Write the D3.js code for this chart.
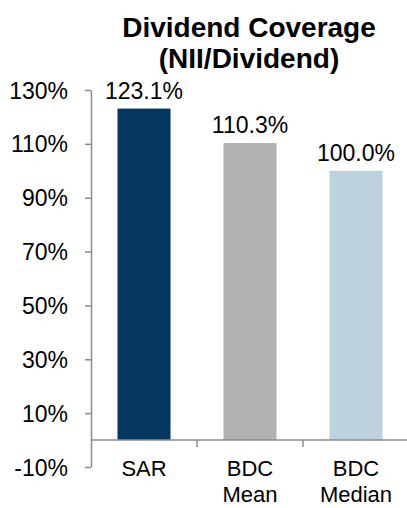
<!DOCTYPE html>
<html><head><meta charset="utf-8">
<script src="https://cdn.jsdelivr.net/npm/d3@7"></script>
<style>html,body{margin:0;padding:0;background:#fff;}</style>
</head><body>
<svg id="c" width="407" height="508"></svg>
<script>
const categories = [["SAR"], ["BDC", "Mean"], ["BDC", "Median"]];
const values = [123.1, 110.3, 100.0];
const labels = ["123.1%", "110.3%", "100.0%"];
const colors = ["#04375F", "#B1B1B1", "#BDD1DF"];
const yTicks = [-10, 10, 30, 50, 70, 90, 110, 130];
const titleLines = ["Dividend Coverage", "(NII/Dividend)"];

const svg = d3.select("#c");
const font = "Liberation Sans, Arial, sans-serif";
const fs = 23;
const x0 = 91, x1 = 409;
const y = d3.scaleLinear().domain([-10, 130]).range([467, 90]);
const x = d3.scaleBand().domain(d3.range(categories.length)).range([x0, x1]).paddingInner(0.5).paddingOuter(0.25);
const xb = d3.scaleBand().domain(d3.range(categories.length)).range([x0, x1]);

// title
svg.append("g").selectAll("text").data(titleLines).join("text")
  .attr("x", 249).attr("y", (d, i) => 37 + i * 31)
  .attr("text-anchor", "middle").attr("font-family", font)
  .attr("font-weight", "bold").attr("font-size", 28).attr("fill", "#000").text(d => d);

// bars
svg.append("g").selectAll("rect").data(values).join("rect")
  .attr("x", (d, i) => x(i)).attr("width", x.bandwidth())
  .attr("y", d => y(d)).attr("height", d => y(0) - y(d))
  .attr("fill", (d, i) => colors[i]);

// y axis
const yAxis = svg.append("g").attr("transform", `translate(${x0},0)`)
  .call(d3.axisLeft(y).tickValues(yTicks).tickFormat(d => d + "%").tickSize(6).tickSizeOuter(0));
yAxis.select(".domain").attr("stroke", "#8C8C8C").attr("stroke-width", 1.5);
yAxis.selectAll(".tick line").attr("stroke", "#8C8C8C").attr("stroke-width", 1.5);
yAxis.selectAll(".tick text").attr("font-family", font).attr("font-size", fs).attr("fill", "#000").attr("x", -23).attr("dy", "0.35em");

// x axis at 0
const xg = svg.append("g").attr("transform", `translate(0,${y(0)})`);
xg.append("line").attr("x1", x0).attr("x2", 407).attr("stroke", "#8C8C8C").attr("stroke-width", 1.5);
xg.selectAll("line.t").data(d3.range(1, categories.length)).join("line").attr("class", "t")
  .attr("x1", i => xb(i)).attr("x2", i => xb(i)).attr("y1", 0).attr("y2", 7)
  .attr("stroke", "#8C8C8C").attr("stroke-width", 1.5);

// category labels
categories.forEach((lines, i) => {
  svg.append("text").attr("x", xb(i) + xb.bandwidth() / 2).attr("y", 476)
    .attr("text-anchor", "middle").attr("font-family", font).attr("font-size", 22).attr("fill", "#000")
    .selectAll("tspan").data(lines).join("tspan")
    .attr("x", xb(i) + xb.bandwidth() / 2).attr("dy", (d, j) => j === 0 ? 0 : 26).text(d => d);
});

// value labels
svg.append("g").selectAll("text").data(values).join("text")
  .attr("x", (d, i) => x(i) + x.bandwidth() / 2).attr("y", d => y(d) - 10)
  .attr("text-anchor", "middle").attr("font-family", font).attr("font-size", fs).attr("fill", "#000")
  .text((d, i) => labels[i]);
</script>
</body></html>
